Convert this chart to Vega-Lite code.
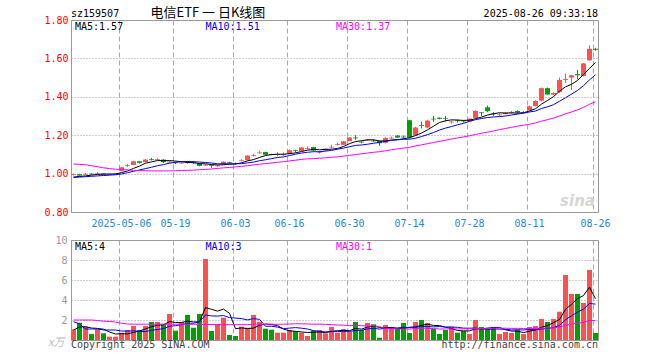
{
"$schema": "https://vega.github.io/schema/vega-lite/v6.json",
"background": "white",
"padding": {"left": 43, "top": 6, "right": 5, "bottom": 0},
"spacing": 28,
"bounds": "flush",
"config": {
  "view": {"stroke": "#999", "strokeWidth": 1},
  "axis": {"domain": false, "ticks": false, "labelFont": "DejaVu Sans Mono", "labelFontSize": 10, "labelOverlap": false, "labelBound": false, "labelFlush": false}
},
"datasets": {"k": [
{"d":"2025-04-21","o":0.993,"h":1.000,"l":0.990,"c":0.997,"v":1.07,"ma5":0.982,"ma10":0.980,"ma30":1.050,"vma5":1.0,"vma10":1.83,"vma30":2.0},
{"d":"2025-04-22","o":0.997,"h":0.998,"l":0.988,"c":0.990,"v":1.73,"ma5":0.985,"ma10":0.982,"ma30":1.048,"vma5":1.3,"vma10":1.6,"vma30":2.0},
{"d":"2025-04-23","o":0.995,"h":1.003,"l":0.993,"c":0.999,"v":1.33,"ma5":0.988,"ma10":0.984,"ma30":1.046,"vma5":1.33,"vma10":1.1,"vma30":2.0},
{"d":"2025-04-24","o":1.000,"h":1.002,"l":0.995,"c":0.996,"v":0.6,"ma5":0.992,"ma10":0.986,"ma30":1.041,"vma5":1.2,"vma10":1.1,"vma30":2.0},
{"d":"2025-04-25","o":0.997,"h":1.008,"l":0.996,"c":1.001,"v":1.07,"ma5":0.996,"ma10":0.988,"ma30":1.036,"vma5":1.16,"vma10":1.1,"vma30":1.95},
{"d":"2025-04-28","o":1.001,"h":1.002,"l":0.994,"c":0.997,"v":0.67,"ma5":0.997,"ma10":0.990,"ma30":1.030,"vma5":1.08,"vma10":1.0,"vma30":1.88},
{"d":"2025-04-29","o":0.994,"h":0.999,"l":0.993,"c":0.998,"v":0.33,"ma5":0.998,"ma10":0.992,"ma30":1.026,"vma5":0.8,"vma10":1.0,"vma30":1.85},
{"d":"2025-04-30","o":0.996,"h":1.001,"l":0.995,"c":1.000,"v":0.33,"ma5":0.998,"ma10":0.994,"ma30":1.023,"vma5":0.6,"vma10":1.0,"vma30":1.8},
{"d":"2025-05-06","o":1.014,"h":1.035,"l":1.012,"c":1.033,"v":0.73,"ma5":1.005,"ma10":0.998,"ma30":1.021,"vma5":0.63,"vma10":0.9,"vma30":1.68},
{"d":"2025-05-07","o":1.039,"h":1.050,"l":1.035,"c":1.043,"v":1.0,"ma5":1.014,"ma10":1.005,"ma30":1.019,"vma5":0.61,"vma10":0.89,"vma30":1.6},
{"d":"2025-05-08","o":1.045,"h":1.066,"l":1.044,"c":1.064,"v":1.4,"ma5":1.027,"ma10":1.012,"ma30":1.017,"vma5":0.76,"vma10":0.92,"vma30":1.58},
{"d":"2025-05-09","o":1.064,"h":1.066,"l":1.052,"c":1.056,"v":1.0,"ma5":1.039,"ma10":1.019,"ma30":1.016,"vma5":0.89,"vma10":0.85,"vma30":1.58},
{"d":"2025-05-12","o":1.060,"h":1.076,"l":1.058,"c":1.073,"v":1.4,"ma5":1.054,"ma10":1.026,"ma30":1.015,"vma5":1.11,"vma10":0.85,"vma30":1.58},
{"d":"2025-05-13","o":1.075,"h":1.082,"l":1.068,"c":1.071,"v":1.8,"ma5":1.061,"ma10":1.033,"ma30":1.014,"vma5":1.32,"vma10":0.97,"vma30":1.58},
{"d":"2025-05-14","o":1.072,"h":1.080,"l":1.070,"c":1.076,"v":1.8,"ma5":1.068,"ma10":1.041,"ma30":1.014,"vma5":1.48,"vma10":1.05,"vma30":1.58},
{"d":"2025-05-15","o":1.073,"h":1.075,"l":1.055,"c":1.060,"v":1.6,"ma5":1.067,"ma10":1.047,"ma30":1.014,"vma5":1.52,"vma10":1.14,"vma30":1.58},
{"d":"2025-05-16","o":1.058,"h":1.066,"l":1.056,"c":1.062,"v":2.6,"ma5":1.068,"ma10":1.054,"ma30":1.014,"vma5":1.84,"vma10":1.37,"vma30":1.58},
{"d":"2025-05-19","o":1.058,"h":1.062,"l":1.050,"c":1.054,"v":0.93,"ma5":1.065,"ma10":1.059,"ma30":1.015,"vma5":1.75,"vma10":1.43,"vma30":1.58},
{"d":"2025-05-20","o":1.053,"h":1.062,"l":1.051,"c":1.057,"v":1.8,"ma5":1.062,"ma10":1.062,"ma30":1.016,"vma5":1.75,"vma10":1.53,"vma30":1.58},
{"d":"2025-05-21","o":1.060,"h":1.066,"l":1.052,"c":1.056,"v":2.5,"ma5":1.058,"ma10":1.063,"ma30":1.017,"vma5":1.89,"vma10":1.68,"vma30":1.58},
{"d":"2025-05-22","o":1.059,"h":1.064,"l":1.050,"c":1.055,"v":1.23,"ma5":1.057,"ma10":1.062,"ma30":1.018,"vma5":1.81,"vma10":1.67,"vma30":1.57},
{"d":"2025-05-23","o":1.052,"h":1.054,"l":1.038,"c":1.040,"v":2.6,"ma5":1.052,"ma10":1.060,"ma30":1.020,"vma5":1.81,"vma10":1.83,"vma30":1.57},
{"d":"2025-05-26","o":1.042,"h":1.052,"l":1.040,"c":1.046,"v":8.1,"ma5":1.051,"ma10":1.058,"ma30":1.022,"vma5":3.25,"vma10":2.5,"vma30":1.55},
{"d":"2025-05-27","o":1.044,"h":1.047,"l":1.030,"c":1.040,"v":0.9,"ma5":1.047,"ma10":1.055,"ma30":1.024,"vma5":3.07,"vma10":2.41,"vma30":1.55},
{"d":"2025-05-28","o":1.038,"h":1.046,"l":1.036,"c":1.042,"v":1.6,"ma5":1.045,"ma10":1.051,"ma30":1.027,"vma5":2.89,"vma10":2.39,"vma30":1.54},
{"d":"2025-05-29","o":1.047,"h":1.064,"l":1.045,"c":1.062,"v":2.23,"ma5":1.046,"ma10":1.051,"ma30":1.030,"vma5":3.09,"vma10":2.45,"vma30":1.54},
{"d":"2025-05-30","o":1.060,"h":1.062,"l":1.050,"c":1.056,"v":0.5,"ma5":1.049,"ma10":1.051,"ma30":1.032,"vma5":2.67,"vma10":2.24,"vma30":1.53},
{"d":"2025-06-03","o":1.055,"h":1.057,"l":1.049,"c":1.051,"v":0.4,"ma5":1.050,"ma10":1.051,"ma30":1.035,"vma5":1.13,"vma10":2.19,"vma30":1.53},
{"d":"2025-06-04","o":1.065,"h":1.076,"l":1.063,"c":1.069,"v":1.33,"ma5":1.056,"ma10":1.052,"ma30":1.038,"vma5":1.21,"vma10":2.14,"vma30":1.53},
{"d":"2025-06-05","o":1.070,"h":1.096,"l":1.068,"c":1.094,"v":1.23,"ma5":1.066,"ma10":1.056,"ma30":1.041,"vma5":1.14,"vma10":2.01,"vma30":1.53},
{"d":"2025-06-06","o":1.093,"h":1.102,"l":1.090,"c":1.097,"v":2.5,"ma5":1.073,"ma10":1.060,"ma30":1.045,"vma5":1.19,"vma10":2.14,"vma30":1.58},
{"d":"2025-06-09","o":1.106,"h":1.120,"l":1.104,"c":1.110,"v":1.83,"ma5":1.084,"ma10":1.067,"ma30":1.049,"vma5":1.46,"vma10":2.06,"vma30":1.58},
{"d":"2025-06-10","o":1.112,"h":1.114,"l":1.096,"c":1.098,"v":1.13,"ma5":1.094,"ma10":1.072,"ma30":1.052,"vma5":1.6,"vma10":1.37,"vma30":1.57},
{"d":"2025-06-11","o":1.101,"h":1.103,"l":1.095,"c":1.097,"v":1.03,"ma5":1.099,"ma10":1.078,"ma30":1.055,"vma5":1.54,"vma10":1.38,"vma30":1.59},
{"d":"2025-06-12","o":1.097,"h":1.112,"l":1.090,"c":1.101,"v":0.73,"ma5":1.101,"ma10":1.084,"ma30":1.059,"vma5":1.44,"vma10":1.29,"vma30":1.57},
{"d":"2025-06-13","o":1.096,"h":1.110,"l":1.092,"c":1.100,"v":0.73,"ma5":1.101,"ma10":1.087,"ma30":1.062,"vma5":1.09,"vma10":1.14,"vma30":1.58},
{"d":"2025-06-16","o":1.103,"h":1.126,"l":1.100,"c":1.122,"v":1.0,"ma5":1.104,"ma10":1.094,"ma30":1.066,"vma5":0.92,"vma10":1.19,"vma30":1.6},
{"d":"2025-06-17","o":1.122,"h":1.124,"l":1.110,"c":1.118,"v":0.87,"ma5":1.108,"ma10":1.101,"ma30":1.070,"vma5":0.87,"vma10":1.24,"vma30":1.62},
{"d":"2025-06-18","o":1.118,"h":1.138,"l":1.116,"c":1.136,"v":0.73,"ma5":1.115,"ma10":1.107,"ma30":1.074,"vma5":0.81,"vma10":1.18,"vma30":1.62},
{"d":"2025-06-19","o":1.129,"h":1.142,"l":1.124,"c":1.133,"v":0.4,"ma5":1.122,"ma10":1.111,"ma30":1.077,"vma5":0.75,"vma10":1.1,"vma30":1.6},
{"d":"2025-06-20","o":1.138,"h":1.140,"l":1.116,"c":1.120,"v":0.93,"ma5":1.126,"ma10":1.114,"ma30":1.078,"vma5":0.79,"vma10":0.94,"vma30":1.58},
{"d":"2025-06-23","o":1.109,"h":1.118,"l":1.104,"c":1.113,"v":1.0,"ma5":1.124,"ma10":1.114,"ma30":1.080,"vma5":0.79,"vma10":0.86,"vma30":1.58},
{"d":"2025-06-24","o":1.120,"h":1.132,"l":1.118,"c":1.130,"v":0.67,"ma5":1.126,"ma10":1.117,"ma30":1.082,"vma5":0.75,"vma10":0.81,"vma30":1.56},
{"d":"2025-06-25","o":1.136,"h":1.150,"l":1.132,"c":1.140,"v":1.3,"ma5":1.127,"ma10":1.121,"ma30":1.085,"vma5":0.86,"vma10":0.84,"vma30":1.54},
{"d":"2025-06-26","o":1.149,"h":1.160,"l":1.146,"c":1.153,"v":0.73,"ma5":1.131,"ma10":1.127,"ma30":1.087,"vma5":0.93,"vma10":0.84,"vma30":1.5},
{"d":"2025-06-27","o":1.150,"h":1.170,"l":1.148,"c":1.168,"v":1.1,"ma5":1.141,"ma10":1.133,"ma30":1.091,"vma5":0.96,"vma10":0.87,"vma30":1.49},
{"d":"2025-06-30","o":1.170,"h":1.190,"l":1.168,"c":1.188,"v":0.83,"ma5":1.156,"ma10":1.140,"ma30":1.095,"vma5":0.93,"vma10":0.86,"vma30":1.43},
{"d":"2025-07-01","o":1.188,"h":1.200,"l":1.175,"c":1.184,"v":1.8,"ma5":1.167,"ma10":1.147,"ma30":1.099,"vma5":1.15,"vma10":0.95,"vma30":1.46},
{"d":"2025-07-02","o":1.166,"h":1.168,"l":1.158,"c":1.162,"v":1.0,"ma5":1.171,"ma10":1.149,"ma30":1.103,"vma5":1.09,"vma10":0.98,"vma30":1.43},
{"d":"2025-07-03","o":1.172,"h":1.180,"l":1.170,"c":1.176,"v":1.7,"ma5":1.176,"ma10":1.153,"ma30":1.107,"vma5":1.29,"vma10":1.11,"vma30":1.4},
{"d":"2025-07-04","o":1.172,"h":1.176,"l":1.165,"c":1.168,"v":1.57,"ma5":1.176,"ma10":1.158,"ma30":1.111,"vma5":1.38,"vma10":1.17,"vma30":1.42},
{"d":"2025-07-07","o":1.170,"h":1.172,"l":1.145,"c":1.158,"v":0.23,"ma5":1.170,"ma10":1.163,"ma30":1.114,"vma5":1.26,"vma10":1.09,"vma30":1.34},
{"d":"2025-07-08","o":1.160,"h":1.190,"l":1.157,"c":1.185,"v":1.5,"ma5":1.170,"ma10":1.168,"ma30":1.119,"vma5":1.2,"vma10":1.18,"vma30":1.12},
{"d":"2025-07-09","o":1.183,"h":1.193,"l":1.180,"c":1.187,"v":1.3,"ma5":1.175,"ma10":1.173,"ma30":1.124,"vma5":1.26,"vma10":1.18,"vma30":1.13},
{"d":"2025-07-10","o":1.198,"h":1.200,"l":1.186,"c":1.188,"v":1.1,"ma5":1.177,"ma10":1.176,"ma30":1.129,"vma5":1.14,"vma10":1.21,"vma30":1.11},
{"d":"2025-07-11","o":1.193,"h":1.198,"l":1.182,"c":1.189,"v":1.7,"ma5":1.181,"ma10":1.179,"ma30":1.133,"vma5":1.17,"vma10":1.27,"vma30":1.1},
{"d":"2025-07-14","o":1.278,"h":1.280,"l":1.183,"c":1.188,"v":0.7,"ma5":1.187,"ma10":1.179,"ma30":1.137,"vma5":1.26,"vma10":1.26,"vma30":1.1},
{"d":"2025-07-15","o":1.200,"h":1.244,"l":1.198,"c":1.240,"v":1.8,"ma5":1.198,"ma10":1.184,"ma30":1.144,"vma5":1.32,"vma10":1.26,"vma30":1.15},
{"d":"2025-07-16","o":1.252,"h":1.270,"l":1.235,"c":1.248,"v":2.0,"ma5":1.211,"ma10":1.193,"ma30":1.150,"vma5":1.46,"vma10":1.36,"vma30":1.17},
{"d":"2025-07-17","o":1.240,"h":1.280,"l":1.236,"c":1.276,"v":1.7,"ma5":1.228,"ma10":1.203,"ma30":1.156,"vma5":1.58,"vma10":1.36,"vma30":1.19},
{"d":"2025-07-18","o":1.286,"h":1.300,"l":1.270,"c":1.282,"v":1.1,"ma5":1.247,"ma10":1.214,"ma30":1.162,"vma5":1.46,"vma10":1.31,"vma30":1.14},
{"d":"2025-07-21","o":1.291,"h":1.293,"l":1.283,"c":1.285,"v":0.6,"ma5":1.266,"ma10":1.227,"ma30":1.168,"vma5":1.44,"vma10":1.35,"vma30":1.1},
{"d":"2025-07-22","o":1.290,"h":1.300,"l":1.272,"c":1.286,"v":1.0,"ma5":1.275,"ma10":1.237,"ma30":1.174,"vma5":1.28,"vma10":1.3,"vma30":1.1},
{"d":"2025-07-23","o":1.267,"h":1.277,"l":1.260,"c":1.271,"v":1.33,"ma5":1.280,"ma10":1.245,"ma30":1.180,"vma5":1.15,"vma10":1.3,"vma30":1.11},
{"d":"2025-07-24","o":1.277,"h":1.282,"l":1.266,"c":1.273,"v":0.73,"ma5":1.279,"ma10":1.254,"ma30":1.186,"vma5":0.95,"vma10":1.27,"vma30":1.11},
{"d":"2025-07-25","o":1.276,"h":1.278,"l":1.266,"c":1.272,"v":0.9,"ma5":1.277,"ma10":1.262,"ma30":1.191,"vma5":0.91,"vma10":1.19,"vma30":1.11},
{"d":"2025-07-28","o":1.272,"h":1.288,"l":1.270,"c":1.286,"v":0.6,"ma5":1.278,"ma10":1.272,"ma30":1.197,"vma5":0.91,"vma10":1.18,"vma30":1.1},
{"d":"2025-07-29","o":1.290,"h":1.330,"l":1.288,"c":1.326,"v":2.0,"ma5":1.286,"ma10":1.281,"ma30":1.204,"vma5":1.11,"vma10":1.2,"vma30":1.14},
{"d":"2025-07-30","o":1.319,"h":1.320,"l":1.300,"c":1.315,"v":1.3,"ma5":1.294,"ma10":1.287,"ma30":1.210,"vma5":1.11,"vma10":1.13,"vma30":1.15},
{"d":"2025-07-31","o":1.345,"h":1.354,"l":1.320,"c":1.325,"v":1.1,"ma5":1.305,"ma10":1.292,"ma30":1.216,"vma5":1.18,"vma10":1.07,"vma30":1.18},
{"d":"2025-08-01","o":1.313,"h":1.320,"l":1.300,"c":1.309,"v":1.3,"ma5":1.312,"ma10":1.295,"ma30":1.222,"vma5":1.26,"vma10":1.09,"vma30":1.19},
{"d":"2025-08-04","o":1.304,"h":1.315,"l":1.298,"c":1.308,"v":0.6,"ma5":1.317,"ma10":1.297,"ma30":1.229,"vma5":1.26,"vma10":1.09,"vma30":1.18},
{"d":"2025-08-05","o":1.310,"h":1.320,"l":1.308,"c":1.318,"v":0.8,"ma5":1.315,"ma10":1.300,"ma30":1.235,"vma5":1.02,"vma10":1.07,"vma30":1.18},
{"d":"2025-08-06","o":1.317,"h":1.326,"l":1.312,"c":1.321,"v":0.7,"ma5":1.316,"ma10":1.305,"ma30":1.241,"vma5":0.9,"vma10":1.0,"vma30":1.16},
{"d":"2025-08-07","o":1.326,"h":1.330,"l":1.312,"c":1.318,"v":1.0,"ma5":1.315,"ma10":1.310,"ma30":1.247,"vma5":0.88,"vma10":1.03,"vma30":1.17},
{"d":"2025-08-08","o":1.317,"h":1.326,"l":1.312,"c":1.321,"v":0.6,"ma5":1.317,"ma10":1.315,"ma30":1.252,"vma5":0.74,"vma10":1.0,"vma30":1.15},
{"d":"2025-08-11","o":1.330,"h":1.354,"l":1.328,"c":1.350,"v":1.3,"ma5":1.326,"ma10":1.321,"ma30":1.257,"vma5":0.88,"vma10":1.07,"vma30":1.17},
{"d":"2025-08-12","o":1.352,"h":1.382,"l":1.350,"c":1.378,"v":1.4,"ma5":1.338,"ma10":1.326,"ma30":1.264,"vma5":1.0,"vma10":1.01,"vma30":1.16},
{"d":"2025-08-13","o":1.380,"h":1.448,"l":1.376,"c":1.445,"v":2.1,"ma5":1.362,"ma10":1.339,"ma30":1.273,"vma5":1.28,"vma10":1.09,"vma30":1.19},
{"d":"2025-08-14","o":1.445,"h":1.448,"l":1.410,"c":1.412,"v":1.8,"ma5":1.381,"ma10":1.348,"ma30":1.281,"vma5":1.44,"vma10":1.16,"vma30":1.2},
{"d":"2025-08-15","o":1.412,"h":1.424,"l":1.408,"c":1.420,"v":2.1,"ma5":1.401,"ma10":1.359,"ma30":1.289,"vma5":1.74,"vma10":1.24,"vma30":1.21},
{"d":"2025-08-18","o":1.425,"h":1.500,"l":1.420,"c":1.488,"v":2.83,"ma5":1.429,"ma10":1.377,"ma30":1.300,"vma5":2.05,"vma10":1.46,"vma30":1.3},
{"d":"2025-08-19","o":1.488,"h":1.520,"l":1.472,"c":1.493,"v":6.5,"ma5":1.452,"ma10":1.395,"ma30":1.311,"vma5":3.07,"vma10":2.03,"vma30":1.47},
{"d":"2025-08-20","o":1.500,"h":1.515,"l":1.435,"c":1.512,"v":4.6,"ma5":1.465,"ma10":1.414,"ma30":1.321,"vma5":3.57,"vma10":2.42,"vma30":1.58},
{"d":"2025-08-21","o":1.518,"h":1.540,"l":1.490,"c":1.512,"v":4.6,"ma5":1.485,"ma10":1.433,"ma30":1.332,"vma5":4.13,"vma10":2.78,"vma30":1.69},
{"d":"2025-08-22","o":1.508,"h":1.576,"l":1.505,"c":1.574,"v":3.7,"ma5":1.516,"ma10":1.458,"ma30":1.345,"vma5":4.45,"vma10":3.09,"vma30":1.76},
{"d":"2025-08-25","o":1.590,"h":1.668,"l":1.588,"c":1.650,"v":7.0,"ma5":1.548,"ma10":1.488,"ma30":1.361,"vma5":5.28,"vma10":3.66,"vma30":1.97},
{"d":"2025-08-26","o":1.650,"h":1.655,"l":1.640,"c":1.645,"v":0.7,"ma5":1.579,"ma10":1.515,"ma30":1.374,"vma5":4.12,"vma10":3.59,"vma30":1.93}
]},
"vconcat": [
{
  "width": 527,
  "height": 192,
  "data": {"name": "k"},
  "encoding": {
    "x": {"field": "d", "type": "ordinal", "title": null,
      "scale": {"paddingInner": 0.17, "paddingOuter": 0},
      "axis": {"values": ["2025-05-06","2025-05-19","2025-06-03","2025-06-16","2025-06-30","2025-07-14","2025-07-28","2025-08-11","2025-08-26"],
        "labelExpr": "datum.value == '2025-05-06' ? datum.value : substring(datum.value, 5)",
        "bandPosition": 0, "labelAngle": 0, "labelColor": "#1e88d8", "labelPadding": 6, "labelBaseline": "top", "labelOverlap": false,
        "grid": true, "gridColor": "#aaa", "gridDash": [5, 3], "gridWidth": 1}}
  },
  "layer": [
    {"mark": {"type": "rule", "strokeWidth": 1},
     "encoding": {
       "y": {"field": "l", "type": "quantitative", "title": null,
         "scale": {"domain": [0.8, 1.8], "zero": false, "nice": false},
         "axis": {"values": [0.8, 1.0, 1.2, 1.4, 1.6, 1.8], "tickCount": 6, "format": ".2f", "labelColor": "#f00", "labelPadding": 3, "labelOverlap": false,
           "grid": true, "gridColor": "#999", "gridDash": [1, 2]}},
       "y2": {"field": "h"},
       "color": {"condition": {"test": "datum.c >= datum.o", "value": "#ff5050"}, "value": "#00a000"}}},
    {"mark": {"type": "bar"},
     "encoding": {
       "y": {"field": "o", "type": "quantitative", "title": null},
       "y2": {"field": "c"},
       "color": {"condition": {"test": "datum.c >= datum.o", "value": "#ff5050"}, "value": "#00a000"}}},
    {"mark": {"type": "line", "color": "#000", "strokeWidth": 1},
     "encoding": {"y": {"field": "ma5", "type": "quantitative", "title": null}}},
    {"mark": {"type": "line", "color": "#0000ff", "strokeWidth": 1},
     "encoding": {"y": {"field": "ma10", "type": "quantitative", "title": null}}},
    {"mark": {"type": "line", "color": "#ff00ff", "strokeWidth": 1},
     "encoding": {"y": {"field": "ma30", "type": "quantitative", "title": null}}},
    {"data": {"values": [{}]},
     "mark": {"type": "text", "text": "sz159507", "align": "left", "baseline": "alphabetic", "font": "DejaVu Sans Mono", "fontSize": 10, "color": "#000"},
     "encoding": {"x": {"datum": "2025-04-21", "bandPosition": 0}, "y": {"datum": 1.818}}},
    {"data": {"values": [{}]},
     "mark": {"type": "text", "text": "电信ETF 一 日K线图", "align": "left", "baseline": "alphabetic", "font": "Noto Sans CJK SC", "fontSize": 13, "color": "#000"},
     "encoding": {"x": {"datum": "2025-05-13", "bandPosition": 0.3}, "y": {"datum": 1.816}}},
    {"data": {"values": [{}]},
     "mark": {"type": "text", "text": "2025-08-26 09:33:18", "align": "right", "baseline": "alphabetic", "font": "DejaVu Sans Mono", "fontSize": 10, "color": "#000"},
     "encoding": {"x": {"datum": "2025-08-26", "bandPosition": 1}, "y": {"datum": 1.818}}},
    {"data": {"values": [{}]},
     "mark": {"type": "text", "text": "MA5:1.57", "align": "left", "baseline": "alphabetic", "font": "DejaVu Sans Mono", "fontSize": 10, "color": "#000"},
     "encoding": {"x": {"datum": "2025-04-21", "bandPosition": 0.8}, "y": {"datum": 1.749}}},
    {"data": {"values": [{}]},
     "mark": {"type": "text", "text": "MA10:1.51", "align": "left", "baseline": "alphabetic", "font": "DejaVu Sans Mono", "fontSize": 10, "color": "#0000ff"},
     "encoding": {"x": {"datum": "2025-05-26", "bandPosition": 0.5}, "y": {"datum": 1.749}}},
    {"data": {"values": [{}]},
     "mark": {"type": "text", "text": "MA30:1.37", "align": "left", "baseline": "alphabetic", "font": "DejaVu Sans Mono", "fontSize": 10, "color": "#ff00ff"},
     "encoding": {"x": {"datum": "2025-06-26", "bandPosition": 0.2}, "y": {"datum": 1.749}}},
    {"data": {"values": [{}]},
     "mark": {"type": "text", "text": "sina", "align": "center", "baseline": "alphabetic", "font": "DejaVu Sans", "fontSize": 15, "fontWeight": "bold", "fontStyle": "italic", "color": "#d6d6d6"},
     "encoding": {"x": {"datum": "2025-08-21", "bandPosition": 0.5}, "y": {"datum": 0.832}}}
  ]
},
{
  "width": 527,
  "height": 100,
  "data": {"name": "k"},
  "encoding": {
    "x": {"field": "d", "type": "ordinal", "title": null,
      "scale": {"paddingInner": 0.17, "paddingOuter": 0},
      "axis": {"values": ["2025-05-06","2025-05-19","2025-06-03","2025-06-16","2025-06-30","2025-07-14","2025-07-28","2025-08-11","2025-08-26"],
        "bandPosition": 0, "labels": false,
        "grid": true, "gridColor": "#aaa", "gridDash": [5, 3], "gridWidth": 1}}
  },
  "layer": [
    {"mark": {"type": "bar"},
     "encoding": {
       "y": {"field": "v", "type": "quantitative", "title": "x万",
         "scale": {"domain": [0, 10], "nice": false},
         "axis": {"values": [2, 4, 6, 8, 10], "tickCount": 5, "labelColor": "#999", "labelPadding": 4, "labelOverlap": false,
           "grid": true, "gridColor": "#999", "gridDash": [1, 2],
           "titleAngle": 0, "titleAlign": "right", "titleBaseline": "alphabetic", "titleX": -7, "titleY": 105,
           "titleColor": "#bbb", "titleFont": "Noto Sans CJK SC", "titleFontSize": 11, "titleFontWeight": "normal", "titleFontStyle": "italic"}},
       "color": {"condition": {"test": "datum.c >= datum.o", "value": "#ff5050"}, "value": "#00a000"}}},
    {"mark": {"type": "line", "color": "#000", "strokeWidth": 1},
     "encoding": {"y": {"field": "vma5", "type": "quantitative", "title": "x万"}}},
    {"mark": {"type": "line", "color": "#0000ff", "strokeWidth": 1},
     "encoding": {"y": {"field": "vma10", "type": "quantitative", "title": "x万"}}},
    {"mark": {"type": "line", "color": "#ff00ff", "strokeWidth": 1},
     "encoding": {"y": {"field": "vma30", "type": "quantitative", "title": "x万"}}},
    {"data": {"values": [{}]},
     "mark": {"type": "text", "text": "MA5:4", "align": "left", "baseline": "alphabetic", "font": "DejaVu Sans Mono", "fontSize": 10, "color": "#000"},
     "encoding": {"x": {"datum": "2025-04-21", "bandPosition": 0.8}, "y": {"datum": 9.0}}},
    {"data": {"values": [{}]},
     "mark": {"type": "text", "text": "MA10:3", "align": "left", "baseline": "alphabetic", "font": "DejaVu Sans Mono", "fontSize": 10, "color": "#0000ff"},
     "encoding": {"x": {"datum": "2025-05-26", "bandPosition": 0.5}, "y": {"datum": 9.0}}},
    {"data": {"values": [{}]},
     "mark": {"type": "text", "text": "MA30:1", "align": "left", "baseline": "alphabetic", "font": "DejaVu Sans Mono", "fontSize": 10, "color": "#ff00ff"},
     "encoding": {"x": {"datum": "2025-06-26", "bandPosition": 0.2}, "y": {"datum": 9.0}}},
    {"data": {"values": [{}]},
     "mark": {"type": "text", "text": "Copyright 2025 SINA.COM", "align": "left", "baseline": "alphabetic", "font": "DejaVu Sans Mono", "fontSize": 10, "color": "#444"},
     "encoding": {"x": {"datum": "2025-04-21", "bandPosition": 0}, "y": {"datum": -0.8}}},
    {"data": {"values": [{}]},
     "mark": {"type": "text", "text": "http://finance.sina.com.cn", "align": "right", "baseline": "alphabetic", "font": "DejaVu Sans Mono", "fontSize": 10, "color": "#444"},
     "encoding": {"x": {"datum": "2025-08-26", "bandPosition": 1}, "y": {"datum": -0.8}}}
  ]
}
]
}
